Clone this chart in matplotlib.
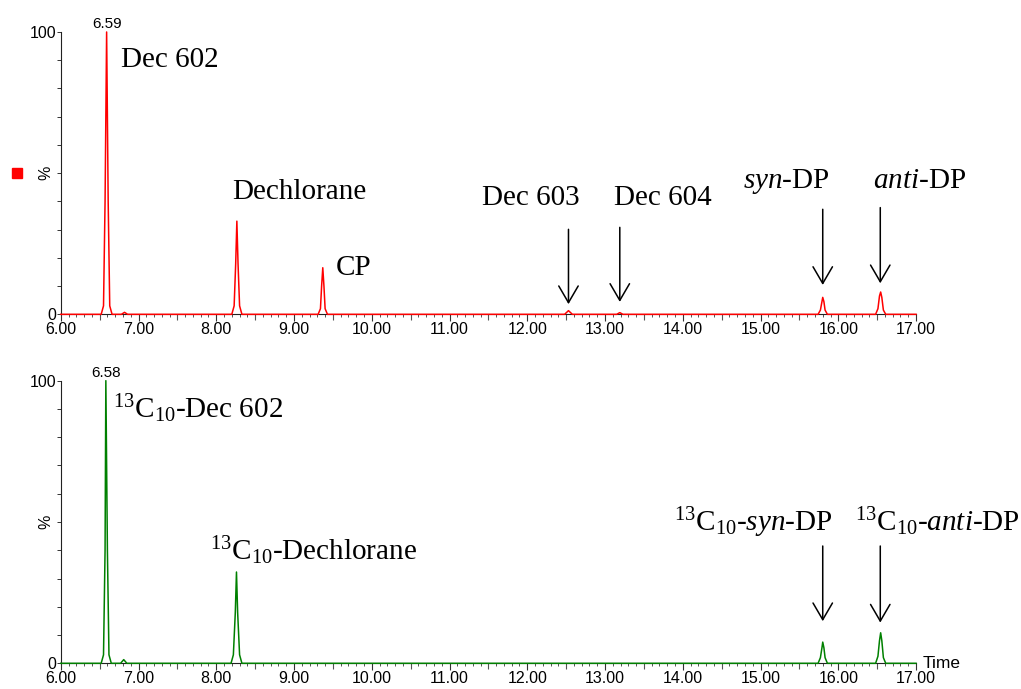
import numpy as np
import matplotlib
matplotlib.use("Agg")
import matplotlib.pyplot as plt
from matplotlib.ticker import MultipleLocator, FormatStrFormatter
from matplotlib.patches import Rectangle

plt.rcParams["font.family"] = ["Liberation Sans", "DejaVu Sans"]
plt.rcParams["mathtext.fontset"] = "custom"
plt.rcParams["mathtext.rm"] = "Liberation Serif"
plt.rcParams["mathtext.it"] = "Liberation Serif:italic"

# ---- chromatogram traces (time in min, relative %) ----
time_top = [6.00, 6.52, 6.55, 6.57, 6.59, 6.61, 6.63, 6.66, 6.78, 6.82, 6.86,
            8.20, 8.23, 8.25, 8.265, 8.28, 8.30, 8.33,
            9.31, 9.34, 9.355, 9.37, 9.385, 9.40, 9.43,
            12.48, 12.53, 12.58, 13.15, 13.19, 13.23,
            15.74, 15.77, 15.79, 15.80, 15.815, 15.83, 15.86,
            16.48, 16.51, 16.53, 16.545, 16.56, 16.58, 16.61, 17.00]
pct_top = [0, 0, 3, 40, 100, 40, 3, 0, 0, 0.7, 0,
           0, 3, 18, 33, 18, 3, 0,
           0, 2, 10, 16.5, 10, 2, 0,
           0, 1.3, 0, 0, 0.6, 0,
           0, 1.5, 4.5, 6.0, 4.5, 1.5, 0,
           0, 2, 6.5, 7.9, 6, 1.5, 0, 0]

time_bot = [6.00, 6.52, 6.55, 6.57, 6.58, 6.60, 6.62, 6.65, 6.77, 6.81, 6.85,
            8.19, 8.22, 8.245, 8.26, 8.275, 8.30, 8.33,
            15.74, 15.77, 15.79, 15.80, 15.815, 15.83, 15.86,
            16.48, 16.51, 16.53, 16.545, 16.56, 16.58, 16.61, 17.00]
pct_bot = [0, 0, 3, 40, 100, 40, 3, 0, 0, 1.3, 0,
           0, 3, 18, 32.3, 18, 3, 0,
           0, 2, 5.5, 7.5, 5.5, 2, 0,
           0, 2.5, 8, 10.8, 8, 2, 0, 0]

# ---- labels: (text, x, y, horizontal alignment) ----
labels_top = [("Dec 602", 6.78, 87.7, "left"),
              ("Dechlorane", 8.21, 40.7, "left"),
              ("CP", 9.54, 13.9, "left"),
              ("Dec 603", 12.04, 38.7, "center"),
              ("Dec 604", 13.74, 38.7, "center"),
              (r"$\it{syn}$-DP", 15.33, 44.7, "center"),
              (r"$\it{anti}$-DP", 17.04, 44.7, "center")]
labels_bot = [(r"$^{\mathrm{13}}$C$_{\mathrm{10}}$-Dec 602", 6.67, 86.9, "left"),
              (r"$^{\mathrm{13}}$C$_{\mathrm{10}}$-Dechlorane", 7.92, 36.6, "left"),
              (r"$^{\mathrm{13}}$C$_{\mathrm{10}}$-$\it{syn}$-DP", 14.90, 46.6, "center"),
              (r"$^{\mathrm{13}}$C$_{\mathrm{10}}$-$\it{anti}$-DP", 17.27, 46.6, "center")]

# arrows: (x, y_start, y_tip)
arrows_top = [(12.53, 30.1, 3.6), (13.19, 30.8, 4.4), (15.80, 37.2, 10.4), (16.54, 37.8, 11.0)]
arrows_bot = [(15.80, 41.5, 14.9), (16.54, 41.5, 14.4)]

apex_top = (6.59, "6.59")
apex_bot = (6.58, "6.58")

fig = plt.figure(figsize=(10.21, 6.89), dpi=100)
ax1 = fig.add_axes([0.0595, 0.5438, 0.8377, 0.4098])
ax2 = fig.add_axes([0.0595, 0.0373, 0.8377, 0.4102])

def style_axis(ax):
    ax.set_xlim(6, 17)
    ax.set_ylim(0, 100)
    for s in ["top", "right"]:
        ax.spines[s].set_visible(False)
    for s in ["left", "bottom"]:
        ax.spines[s].set_color("#222222")
        ax.spines[s].set_linewidth(0.8)
    ax.xaxis.set_major_locator(MultipleLocator(1))
    ax.xaxis.set_minor_locator(MultipleLocator(0.1))
    ax.xaxis.set_major_formatter(FormatStrFormatter("%.2f"))
    ax.set_yticks([0, 100])
    ax.yaxis.set_minor_locator(MultipleLocator(10))
    ax.tick_params(axis="x", which="major", length=5, width=0.8, color="#333333",
                   labelsize=11.5, pad=0.5)
    ax.tick_params(axis="x", which="minor", length=2.3, width=0.7, color="#555555")
    ax.tick_params(axis="y", which="both", length=3, width=0.7, color="#333333",
                   labelsize=11.5, pad=0.5)
    sec = ax.secondary_xaxis("bottom")
    sec.set_xticks(np.arange(6.5, 17, 1.0))
    sec.tick_params(length=4, width=0.8, color="#555555", labelbottom=False)
    sec.spines["bottom"].set_visible(False)
    ax.text(-0.017, 0.5, "%", transform=ax.transAxes, rotation=90,
            ha="center", va="center", fontsize=11.5)

def draw_panel(ax, t, p, color, labels, arrows, apex):
    style_axis(ax)
    ax.plot(t, p, color=color, lw=1.1, clip_on=False, zorder=3)
    ax.text(apex[0], 101.3, apex[1], ha="center", va="baseline", fontsize=11)
    for txt, x, y, ha in labels:
        ax.text(x, y, txt, ha=ha, va="baseline", fontsize=21,
                family="Liberation Serif", clip_on=False)
    for x, y0, y1 in arrows:
        ax.annotate("", xy=(x, y1), xytext=(x, y0),
                    arrowprops=dict(arrowstyle="->,head_length=0.6,head_width=0.35",
                                    lw=1.1, color="black", mutation_scale=20,
                                    shrinkA=0, shrinkB=0))

draw_panel(ax1, time_top, pct_top, "#ff0000", labels_top, arrows_top, apex_top)
draw_panel(ax2, time_bot, pct_bot, "#008000", labels_bot, arrows_bot, apex_bot)

ax2.text(1.008, 0.0, "Time", transform=ax2.transAxes, ha="left", va="center", fontsize=12.5)

fig.patches.append(Rectangle((12 / 1021, 1 - 178 / 689), 10 / 1021, 10 / 689,
                             transform=fig.transFigure, color="#ff0000"))

fig.savefig("out.png", dpi=100)
